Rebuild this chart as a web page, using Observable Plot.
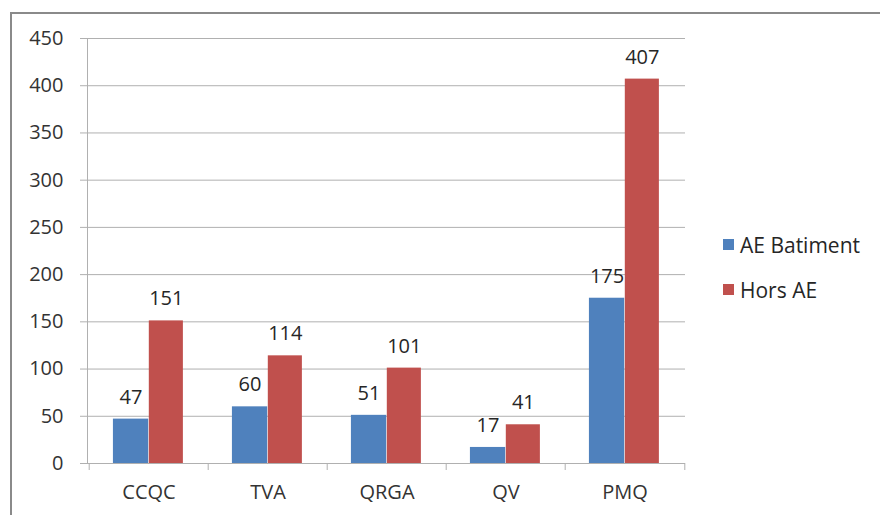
<!DOCTYPE html>
<html>
<head>
<meta charset="utf-8">
<script src="https://cdn.jsdelivr.net/npm/d3@7"></script>
<script src="https://cdn.jsdelivr.net/npm/@observablehq/plot@0.6"></script>
<style>
  html, body { margin: 0; padding: 0; background: #fff; }
  #wrap { position: relative; width: 880px; height: 515px; overflow: hidden; font-family: "Open Sans", sans-serif; }
  #border { position: absolute; left: 10px; top: 12px; width: 880px; height: 520px; border-left: 2px solid #8a8a8a; border-top: 2px solid #8a8a8a; box-sizing: border-box; }
  #legend { position: absolute; left: 723px; top: 230px; font-size: 21px; color: #262626; }
  .item { display: flex; align-items: center; height: 29px; margin-bottom: 16px; }
  .sw { width: 11px; height: 11px; margin-right: 6px; }
  svg { position: absolute; left: 0; top: 0; }
</style>
</head>
<body>
<div id="wrap">
  <div id="border"></div>
  <div id="chart"></div>
  <div id="legend"></div>
</div>
<script>
const categories = ["CCQC", "TVA", "QRGA", "QV", "PMQ"];
const seriesNames = ["AE Batiment", "Hors AE"];
const aeBatiment = [47, 60, 51, 17, 175];
const horsAE = [151, 114, 101, 41, 407];
const yTicks = [0, 50, 100, 150, 200, 250, 300, 350, 400, 450];
const colors = ["#4F81BD", "#C0504D"];

const blue = categories.map((c, i) => ({cat: c, v: aeBatiment[i]}));
const red = categories.map((c, i) => ({cat: c, v: horsAE[i]}));

const W = 880, H = 515;
const mL = 87, mR = 195, mT = 38, mB = 52;
const band = (W - mL - mR) / categories.length;

const plot = Plot.plot({
  width: W, height: H,
  marginLeft: mL, marginRight: mR, marginTop: mT, marginBottom: mB,
  style: {fontFamily: "'Open Sans', sans-serif", background: "transparent"},
  x: {domain: categories, padding: 0, label: null},
  y: {domain: [0, 450], ticks: yTicks, label: null},
  marks: [
    Plot.ruleY(yTicks, {stroke: "#b0b0b0", strokeWidth: 1, insetLeft: -7}),
    Plot.frame({anchor: "left", stroke: "#b0b0b0"}),
    Plot.ruleX(categories, {x: d => d, dx: -band / 2, y1: 0, y2: 0, insetBottom: -7, stroke: "#b0b0b0"}),
    Plot.ruleX(categories.slice(-1), {x: d => d, dx: band / 2, y1: 0, y2: 0, insetBottom: -7, stroke: "#b0b0b0"}),
    Plot.barY(blue, {x: "cat", y: "v", fill: colors[0], insetLeft: band * 0.2, insetRight: band * 0.5}),
    Plot.barY(red, {x: "cat", y: "v", fill: colors[1], insetLeft: band * 0.5, insetRight: band * 0.21}),
    Plot.text(blue, {x: "cat", y: "v", text: d => String(d.v), dx: -band * 0.15, dy: -22, fontSize: 20, fill: "#262626"}),
    Plot.text(red, {x: "cat", y: "v", text: d => String(d.v), dx: band * 0.145, dy: -22, fontSize: 20, fill: "#262626"}),
    Plot.axisY({ticks: yTicks, tickSize: 0, tickPadding: 24, fontSize: 20, color: "#333"}),
    Plot.axisX({tickSize: 0, tickPadding: 21, fontSize: 20, color: "#333"})
  ]
});
document.getElementById("chart").appendChild(plot);

const legend = document.getElementById("legend");
seriesNames.forEach((name, i) => {
  const item = document.createElement("div");
  item.className = "item";
  const sw = document.createElement("div");
  sw.className = "sw";
  sw.style.background = colors[i];
  const t = document.createElement("span");
  t.textContent = name;
  item.appendChild(sw);
  item.appendChild(t);
  legend.appendChild(item);
});
</script>
</body>
</html>
